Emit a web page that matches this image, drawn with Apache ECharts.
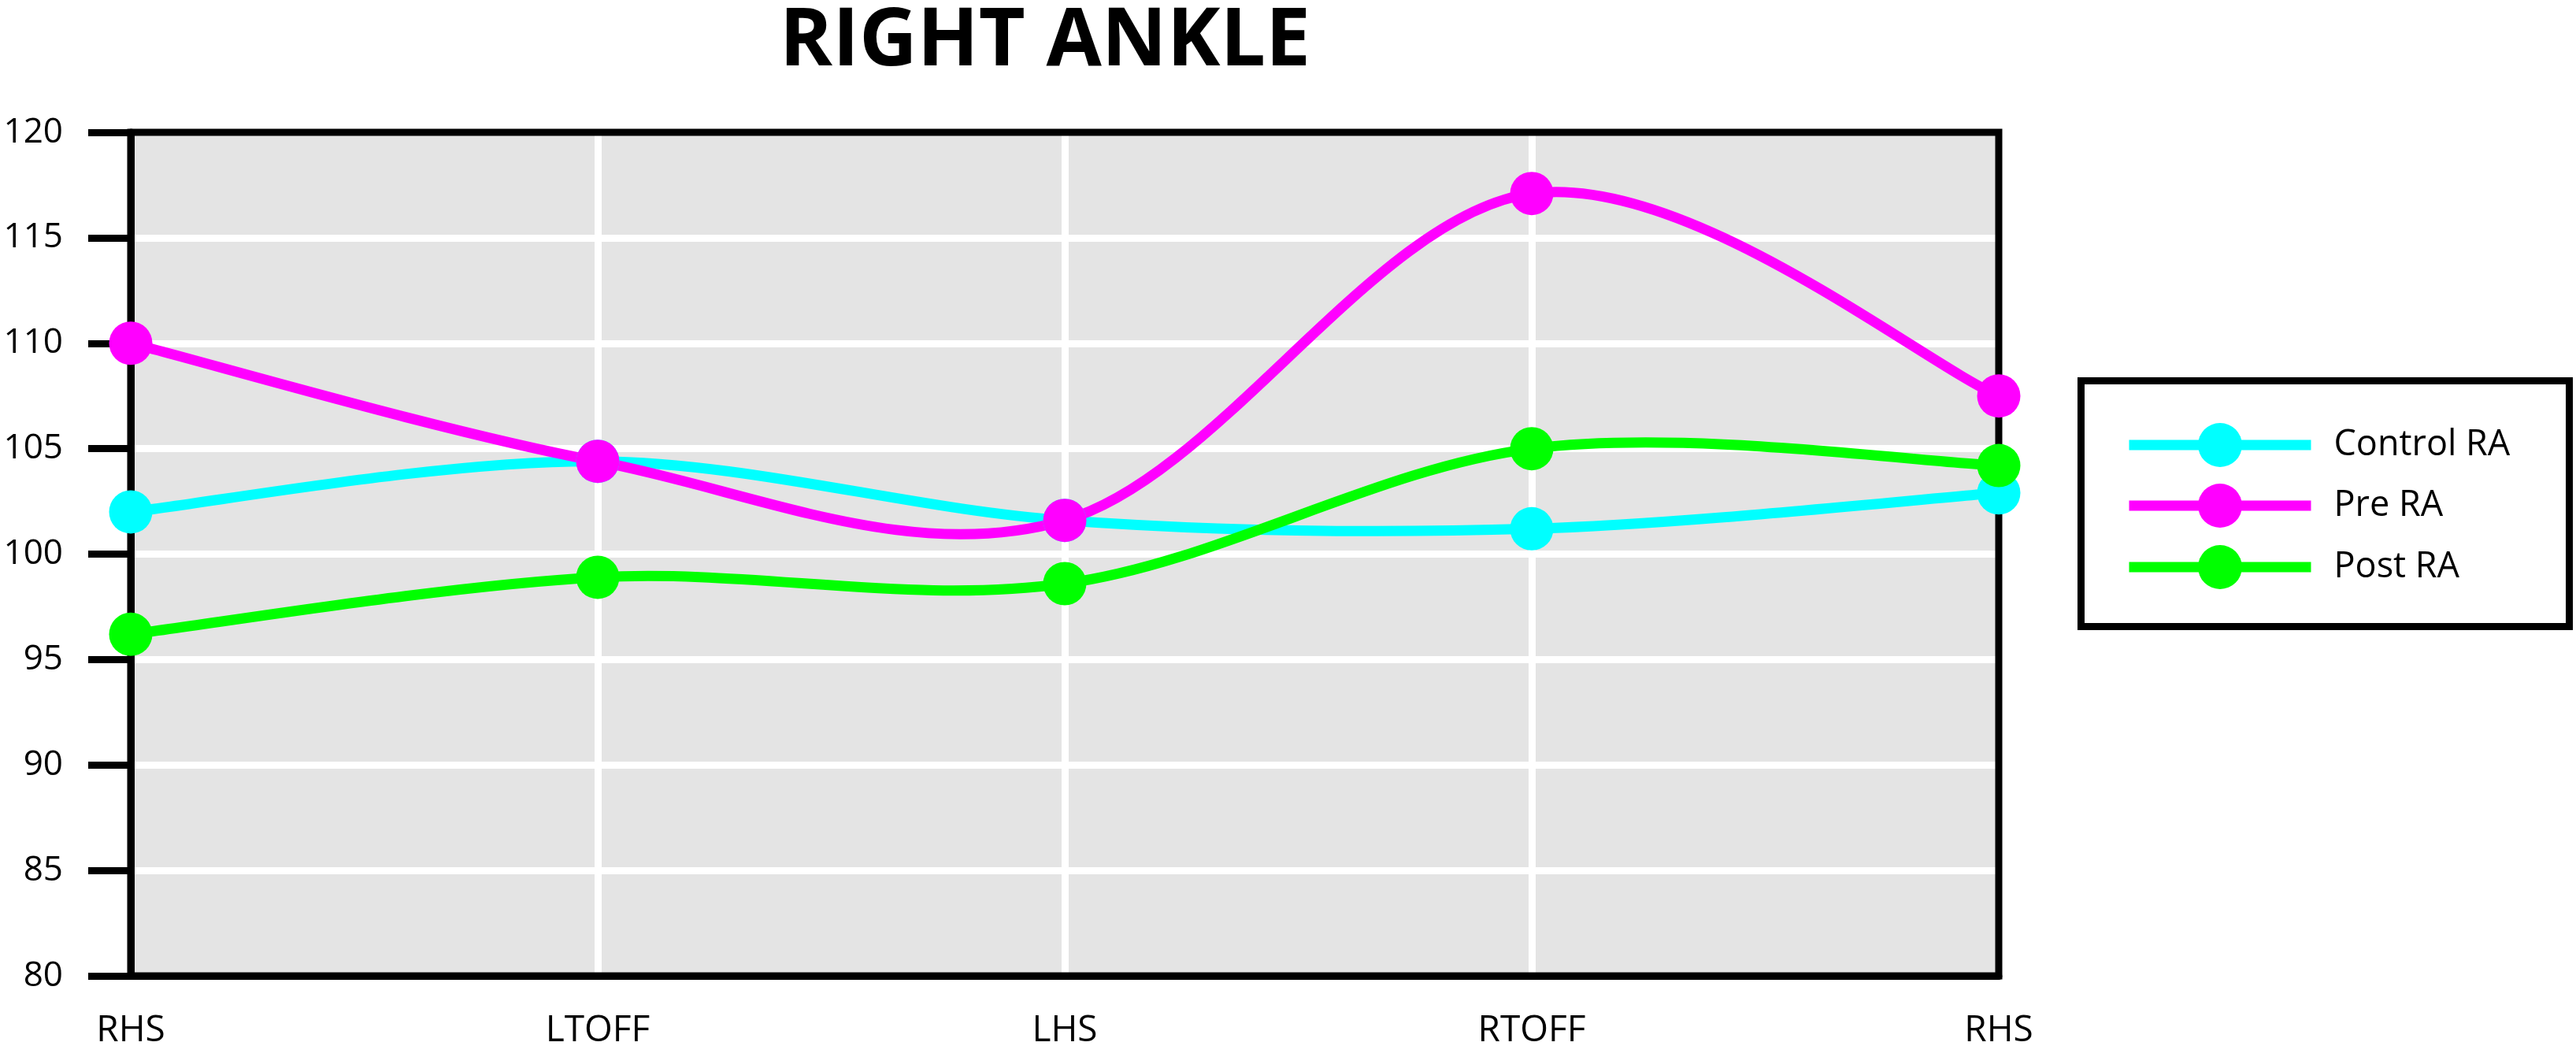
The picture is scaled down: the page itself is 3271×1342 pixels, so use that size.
<!DOCTYPE html>
<html>
<head>
    <meta charset="utf-8">
    <title>Right Ankle</title>
    <script src="https://cdn.jsdelivr.net/npm/echarts@6/dist/echarts.min.js"></script>
    <style>
        html, body { margin: 0; padding: 0; background: #ffffff; }
        #main { width: 3271px; height: 1342px; }
    </style>
</head>
<body>
<div id="main"></div>
<script>
    // gait events along x
    var categories = ['RHS', 'LTOFF', 'LHS', 'RTOFF', 'RHS'];

    // angle values
    var controlRA = [102.0, 104.4, 101.6, 101.2, 102.9];
    var preRA = [110.0, 104.4, 101.6, 117.1, 107.5];
    var postRA = [96.2, 98.9, 98.6, 105.0, 104.2];

    var seriesNames = ['Control RA', 'Pre RA', 'Post RA'];
    var seriesColors = ['#00ffff', '#ff00ff', '#00ff00'];

    var font = '"Open Sans", "Noto Sans", sans-serif';

    var chart = echarts.init(document.getElementById('main'));

    // spreadsheet-style smoothed curve: one cubic bezier per segment,
    // control points taken from the neighbouring points (catmull-rom, 1/6)
    function curveSeries(name, values, color) {
        var segs = [];
        for (var i = 0; i < values.length - 1; i++) {
            segs.push([i, values[i]]);
        }
        return {
            name: name + ' curve',
            type: 'custom',
            data: segs,
            z: 2,
            silent: true,
            renderItem: function (params, api) {
                var i = api.value(0);
                var n = values.length;
                function pt(k) {
                    k = Math.max(0, Math.min(n - 1, k));
                    return api.coord([k, values[k]]);
                }
                var p0 = pt(i - 1), p1 = pt(i), p2 = pt(i + 1), p3 = pt(i + 2);
                return {
                    type: 'bezierCurve',
                    shape: {
                        x1: p1[0], y1: p1[1],
                        cpx1: p1[0] + (p2[0] - p0[0]) / 6,
                        cpy1: p1[1] + (p2[1] - p0[1]) / 6,
                        cpx2: p2[0] - (p3[0] - p1[0]) / 6,
                        cpy2: p2[1] - (p3[1] - p1[1]) / 6,
                        x2: p2[0], y2: p2[1]
                    },
                    style: {fill: null, stroke: color, lineWidth: 13}
                };
            }
        };
    }

    function markerSeries(name, values, color) {
        return {
            name: name,
            type: 'line',
            data: values,
            symbol: 'circle',
            symbolSize: 55,
            lineStyle: {color: color, width: 13, opacity: 0},
            itemStyle: {color: color},
            z: 2
        };
    }

    // one legend per entry so each row sits at a fixed height
    var legendTops = [537, 614, 692];
    var legends = seriesNames.map(function (name, i) {
        return {
            orient: 'vertical',
            left: 2697,
            top: legendTops[i],
            padding: 0,
            itemWidth: 231,
            itemHeight: 70,
            lineStyle: {width: 13, opacity: 1},
            textStyle: {fontFamily: font, fontSize: 45, color: '#000', padding: [0, 0, 0, 24]},
            data: [name]
        };
    });

    var option = {
        backgroundColor: '#ffffff',
        animation: false,
        title: {
            text: 'RIGHT ANKLE',
            left: 1327,
            top: 3,
            padding: 0,
            textAlign: 'center',
            textStyle: {fontFamily: font, fontWeight: 'bold', fontSize: 102, color: '#000'}
        },
        grid: {
            left: 166,
            right: 733,
            top: 168,
            bottom: 103,
            show: true,
            backgroundColor: '#e4e4e4',
            borderWidth: 0
        },
        legend: legends,
        xAxis: {
            type: 'category',
            data: categories,
            boundaryGap: false,
            axisLine: {lineStyle: {color: '#000', width: 9}},
            axisTick: {show: false},
            axisLabel: {fontFamily: font, fontSize: 46, color: '#000', margin: 47, interval: 0},
            splitLine: {show: true, interval: 0, showMinLine: false, showMaxLine: false,
                lineStyle: {color: '#ffffff', width: 9}}
        },
        yAxis: {
            type: 'value',
            min: 80,
            max: 120,
            interval: 5,
            axisLine: {show: true, lineStyle: {color: '#000', width: 9}},
            axisTick: {show: true, length: 54, lineStyle: {color: '#000', width: 9}},
            axisLabel: {fontFamily: font, fontSize: 44, color: '#000', margin: 86},
            splitLine: {show: true, showMinLine: false, showMaxLine: false,
                lineStyle: {color: '#ffffff', width: 9}}
        },
        graphic: [
            {
                // plot frame
                type: 'rect',
                z: 1,
                shape: {x: 166, y: 168, width: 2372, height: 1071},
                style: {fill: null, stroke: '#000', lineWidth: 9}
            },
            {
                // legend box
                type: 'rect',
                z: 1,
                shape: {x: 2642.5, y: 483.5, width: 620, height: 312},
                style: {fill: null, stroke: '#000', lineWidth: 9}
            }
        ],
        series: [
            curveSeries(seriesNames[0], controlRA, seriesColors[0]),
            markerSeries(seriesNames[0], controlRA, seriesColors[0]),
            curveSeries(seriesNames[1], preRA, seriesColors[1]),
            markerSeries(seriesNames[1], preRA, seriesColors[1]),
            curveSeries(seriesNames[2], postRA, seriesColors[2]),
            markerSeries(seriesNames[2], postRA, seriesColors[2])
        ]
    };

    chart.setOption(option);

    window.onresize = function () {
        chart.resize();
    };
</script>
</body>
</html>
